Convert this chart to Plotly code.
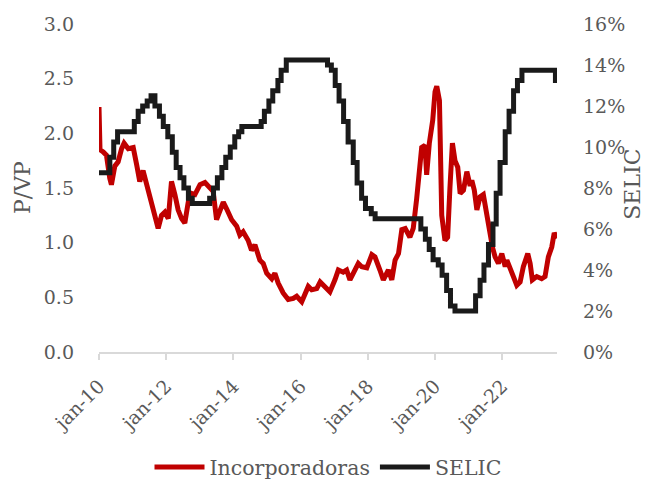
import plotly.graph_objects as go

# --- Data -------------------------------------------------------------
pvp_dates = [
    "2010-01-01", "2010-01-12", "2010-02-16", "2010-03-23", "2010-04-28", "2010-05-16",
    "2010-06-22", "2010-07-28", "2010-09-04", "2010-10-01", "2010-11-15", "2011-01-08",
    "2011-02-15", "2011-03-20", "2011-04-25", "2011-06-01", "2011-07-07", "2011-08-12",
    "2011-10-06", "2011-11-12", "2011-12-18", "2012-01-24", "2012-02-28", "2012-04-05",
    "2012-05-10", "2012-06-17", "2012-07-22", "2012-08-28", "2012-10-04", "2012-11-09",
    "2013-01-03", "2013-02-26", "2013-04-20", "2013-05-26", "2013-07-02", "2013-08-08",
    "2013-09-13", "2013-10-19", "2013-12-13", "2014-02-06", "2014-03-12", "2014-04-17",
    "2014-06-11", "2014-07-17", "2014-08-23", "2014-10-16", "2014-11-21", "2014-12-29",
    "2015-02-22", "2015-03-28", "2015-05-03", "2015-06-26", "2015-08-20", "2015-10-14",
    "2015-11-20", "2016-01-14", "2016-02-19", "2016-03-25", "2016-05-01", "2016-06-25",
    "2016-08-01", "2016-09-22", "2016-11-15", "2017-01-09", "2017-02-15", "2017-04-09",
    "2017-05-16", "2017-06-21", "2017-07-27", "2017-09-20", "2017-10-27", "2017-12-21",
    "2018-02-14", "2018-03-20", "2018-05-13", "2018-06-19", "2018-08-13", "2018-09-19",
    "2018-10-25", "2018-12-01", "2019-01-06", "2019-02-12", "2019-04-04", "2019-05-10",
    "2019-06-16", "2019-07-22", "2019-08-10", "2019-09-15", "2019-10-03", "2019-11-01",
    "2019-12-08", "2020-01-02", "2020-01-21", "2020-02-19", "2020-02-27", "2020-03-15",
    "2020-04-19", "2020-05-18", "2020-06-12", "2020-07-09", "2020-08-06", "2020-09-05",
    "2020-10-01", "2020-11-06", "2020-12-13", "2021-01-18", "2021-02-05", "2021-03-04",
    "2021-04-01", "2021-05-06", "2021-06-10", "2021-07-06", "2021-08-04", "2021-08-22",
    "2021-09-17", "2021-10-16", "2021-11-21", "2021-12-28", "2022-02-03", "2022-02-21",
    "2022-03-28", "2022-05-03", "2022-06-09", "2022-07-15", "2022-08-19", "2022-10-06",
    "2022-11-01", "2022-11-25", "2023-01-12", "2023-03-06", "2023-04-12", "2023-05-18",
    "2023-06-24", "2023-07-21", "2023-08-20",
]
pvp_incorporadoras = [
    2.24, 1.85, 1.83, 1.80, 1.59, 1.53,
    1.70, 1.74, 1.86, 1.91, 1.86, 1.87,
    1.71, 1.56, 1.66, 1.54, 1.44, 1.34,
    1.13, 1.25, 1.28, 1.22, 1.56, 1.44,
    1.30, 1.22, 1.18, 1.37, 1.45, 1.44,
    1.53, 1.55, 1.50, 1.47, 1.21, 1.30,
    1.37, 1.31, 1.21, 1.15, 1.07, 1.10,
    1.02, 0.93, 0.98, 0.84, 0.81, 0.72,
    0.67, 0.72, 0.63, 0.54, 0.48, 0.49,
    0.51, 0.46, 0.52, 0.60, 0.57, 0.58,
    0.64, 0.60, 0.55, 0.66, 0.75, 0.73,
    0.75, 0.66, 0.72, 0.81, 0.78, 0.77,
    0.89, 0.87, 0.75, 0.66, 0.75, 0.66,
    0.84, 0.90, 1.12, 1.13, 1.05, 1.13,
    1.40, 1.72, 1.87, 1.89, 1.62, 1.91,
    2.12, 2.38, 2.43, 2.30, 1.80, 1.25,
    1.02, 1.05, 1.50, 1.91, 1.75, 1.69,
    1.45, 1.48, 1.65, 1.52, 1.57, 1.48,
    1.30, 1.42, 1.44, 1.30, 1.21, 1.05,
    0.96, 0.87, 0.81, 0.90, 0.78, 0.84,
    0.75, 0.69, 0.61, 0.64, 0.78, 0.90,
    0.81, 0.66, 0.69, 0.67, 0.69, 0.87,
    0.96, 1.09, 1.04,
]

selic_dates = [
    "2010-01-01", "2010-04-29", "2010-06-10", "2010-07-22", "2011-01-20", "2011-03-03",
    "2011-04-21", "2011-06-09", "2011-07-21", "2011-09-01", "2011-10-20", "2011-12-01",
    "2012-01-19", "2012-03-08", "2012-04-19", "2012-05-31", "2012-07-12", "2012-08-30",
    "2012-10-11", "2013-04-18", "2013-05-30", "2013-07-11", "2013-08-29", "2013-10-10",
    "2013-11-28", "2014-01-16", "2014-02-27", "2014-04-03", "2014-10-30", "2014-12-04",
    "2015-01-22", "2015-03-05", "2015-04-30", "2015-06-04", "2015-07-30", "2016-10-20",
    "2016-12-01", "2017-01-12", "2017-02-23", "2017-04-13", "2017-06-01", "2017-07-27",
    "2017-09-07", "2017-10-26", "2017-12-07", "2018-02-08", "2018-03-22", "2019-08-01",
    "2019-09-19", "2019-10-31", "2019-12-12", "2020-02-06", "2020-03-19", "2020-05-07",
    "2020-06-18", "2020-08-06", "2021-03-18", "2021-05-06", "2021-06-17", "2021-08-05",
    "2021-09-23", "2021-10-28", "2021-12-09", "2022-02-03", "2022-03-17", "2022-05-05",
    "2022-06-16", "2022-08-04", "2023-08-03", "2023-08-20",
]
selic_rate = [
    8.75, 9.50, 10.25, 10.75, 11.25, 11.75,
    12.00, 12.25, 12.50, 12.00, 11.50, 11.00,
    10.50, 9.75, 9.00, 8.50, 8.00, 7.50,
    7.25, 7.50, 8.00, 8.50, 9.00, 9.50,
    10.00, 10.50, 10.75, 11.00, 11.25, 11.75,
    12.25, 12.75, 13.25, 13.75, 14.25, 14.00,
    13.75, 13.00, 12.25, 11.25, 10.25, 9.25,
    8.25, 7.50, 7.00, 6.75, 6.50, 6.00,
    5.50, 5.00, 4.50, 4.25, 3.75, 3.00,
    2.25, 2.00, 2.75, 3.50, 4.25, 5.25,
    6.25, 7.75, 9.25, 10.75, 11.75, 12.75,
    13.25, 13.75, 13.25, 13.25,
]

x_tick_vals = ["2010-01-01", "2012-01-01", "2014-01-01", "2016-01-01",
               "2018-01-01", "2020-01-01", "2022-01-01"]
x_tick_text = ["jan-10", "jan-12", "jan-14", "jan-16", "jan-18", "jan-20", "jan-22"]

# --- Figure -----------------------------------------------------------
FONT = "DejaVu Serif"
GREY = "#595959"

fig = go.Figure()
fig.add_trace(go.Scatter(
    x=pvp_dates, y=pvp_incorporadoras, name="Incorporadoras",
    mode="lines", line=dict(color="#C00000", width=5), yaxis="y",
))
fig.add_trace(go.Scatter(
    x=selic_dates, y=selic_rate, name="SELIC",
    mode="lines", line=dict(color="#1A1A1A", width=5, shape="hv"), yaxis="y2",
))

# the page body adds an 8px offset, margins compensate for it
fig.update_layout(
    width=649, height=500, autosize=False,
    margin=dict(l=91, r=100, t=16, b=156),
    paper_bgcolor="white", plot_bgcolor="white",
    font=dict(family=FONT, size=19, color=GREY),
    showlegend=True,
    legend=dict(orientation="h", x=0.5, xanchor="center", y=-0.351, yanchor="middle",
                font=dict(family=FONT, size=20.5, color=GREY), itemwidth=50),
    xaxis=dict(
        type="date", range=["2010-01-01", "2023-08-20"], automargin=False,
        tickmode="array", tickvals=x_tick_vals, ticktext=x_tick_text,
        tickangle=-45, showgrid=False, zeroline=False,
        showline=True, linecolor="#D9D9D9", linewidth=1.5,
        ticks="outside", ticklen=6, tickcolor="#D9D9D9", tickwidth=1.5,
        ticklabelstandoff=8,
        tickfont=dict(family=FONT, size=19, color=GREY),
    ),
    yaxis=dict(
        range=[0, 3.0], tickmode="linear", tick0=0, dtick=0.5, tickformat=".1f",
        automargin=False,
        showgrid=False, zeroline=False, showline=False,
        ticklabelstandoff=24,
        tickfont=dict(family=FONT, size=19, color=GREY),
    ),
    yaxis2=dict(
        range=[0, 16], tickmode="linear", tick0=0, dtick=2, ticksuffix="%",
        overlaying="y", side="right", automargin=False,
        showgrid=False, zeroline=False, showline=False,
        ticklabelstandoff=25,
        tickfont=dict(family=FONT, size=19, color=GREY),
    ),
    annotations=[
        dict(text="P/VP", xref="paper", yref="paper", x=-0.168, y=0.5,
             xanchor="center", yanchor="middle", textangle=-90, showarrow=False,
             font=dict(family=FONT, size=22, color=GREY)),
        dict(text="SELIC", xref="paper", yref="paper", x=1.166, y=0.51,
             xanchor="center", yanchor="middle", textangle=-90, showarrow=False,
             font=dict(family=FONT, size=22, color=GREY)),
    ],
)

fig.write_html("out.html")
